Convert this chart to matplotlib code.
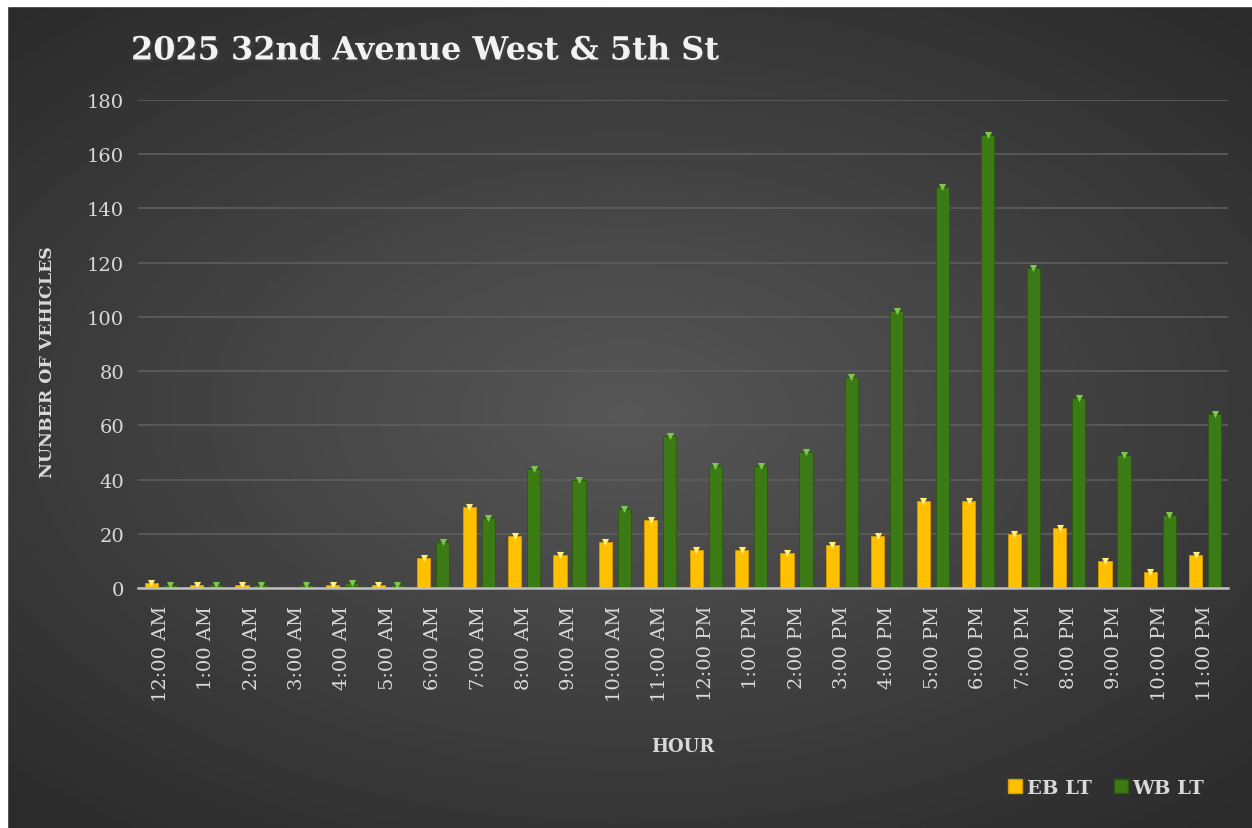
import numpy as np
import matplotlib.pyplot as plt
from matplotlib.lines import Line2D
from matplotlib.patches import Rectangle
import matplotlib.patheffects as pe

hours = ["12:00 AM", "1:00 AM", "2:00 AM", "3:00 AM", "4:00 AM", "5:00 AM",
         "6:00 AM", "7:00 AM", "8:00 AM", "9:00 AM", "10:00 AM", "11:00 AM",
         "12:00 PM", "1:00 PM", "2:00 PM", "3:00 PM", "4:00 PM", "5:00 PM",
         "6:00 PM", "7:00 PM", "8:00 PM", "9:00 PM", "10:00 PM", "11:00 PM"]
eb_lt = [2, 1, 1, 0, 1, 1, 11, 30, 19, 12, 17, 25, 14, 14, 13, 16, 19, 32, 32, 20, 22, 10, 6, 12]
wb_lt = [1, 1, 1, 1, 2, 1, 17, 26, 44, 40, 29, 56, 45, 45, 50, 78, 102, 148, 167, 118, 70, 49, 27, 64]

serif = ["DejaVu Serif"]
txt = "#d9d9d9"

fig = plt.figure(figsize=(12.52, 8.29), dpi=100, facecolor="#2b2b2b")

# dark radial-gradient background over the whole figure
bg = fig.add_axes([0, 0, 1, 1])
yy, xx = np.mgrid[-1:1:300j, -1:1:450j]
r = np.sqrt((xx * 0.9) ** 2 + (yy * 1.0) ** 2)
shade = 0.34 - 0.17 * np.clip(r / 1.3, 0, 1)
bg.imshow(shade, cmap="gray", vmin=0, vmax=1, aspect="auto", extent=[0, 1, 0, 1])
bg.set_xlim(0, 1)
bg.set_ylim(0, 1)
bg.axis("off")
# white strip at top and left like the source image
fig.patches.append(Rectangle((0, 1 - 7 / 829), 1, 7 / 829, transform=fig.transFigure,
                             color="white", zorder=10))
fig.patches.append(Rectangle((0, 0), 7 / 1252, 1, transform=fig.transFigure,
                             color="white", zorder=10))

ax = fig.add_axes([138 / 1252, 1 - 589 / 829, (1228 - 138) / 1252, (589 - 101) / 829])
ax.patch.set_alpha(0)

x = np.arange(len(hours))
eb = np.array(eb_lt)
wb = np.array(wb_lt)
w = 0.29
ax.bar(x - 0.21, eb, w, color="#FFC000", edgecolor="#D99A00", linewidth=0.6, zorder=3)
ax.bar(x + 0.21, wb, w, color="#3B7A14", edgecolor="#2A5A0C", linewidth=0.6, zorder=3)
# small bevel caps on top of each non-zero bar
ax.scatter((x - 0.21)[eb > 0], eb[eb > 0], marker="v", s=26, color="#FFF07A", zorder=4, linewidths=0)
ax.scatter((x + 0.21)[wb > 0], wb[wb > 0], marker="v", s=26, color="#7CC84A", zorder=4, linewidths=0)

ax.set_xlim(-0.5, len(hours) - 0.5)
ax.set_ylim(0, 180)
ax.set_yticks(range(0, 181, 20))
ax.grid(axis="y", color="#5e5e5e", linewidth=1.2, zorder=0)
ax.set_axisbelow(True)
for s in ["top", "right", "left"]:
    ax.spines[s].set_visible(False)
ax.spines["bottom"].set_color("#bfbfbf")
ax.spines["bottom"].set_linewidth(1.8)
ax.spines["bottom"].set_zorder(5)

ax.set_xticks(x)
ax.set_xticklabels(hours, rotation=90, family=serif, fontsize=14, color=txt)
for lab in ax.get_yticklabels():
    lab.set_family(serif)
    lab.set_fontsize(14)
    lab.set_color(txt)
ax.tick_params(axis="both", length=0, pad=10)
ax.tick_params(axis="x", pad=12)

ax.set_xlabel("HOUR", family=serif, fontsize=13, fontweight="bold", color=txt, labelpad=26)
ax.set_ylabel("NUNBER OF VEHICLES", family=serif, fontsize=12.5, fontweight="bold", color=txt)
ax.yaxis.set_label_coords(-0.075, 0.465)

fig.text(131 / 1252, 1 - 52 / 829, "2025 32nd Avenue West & 5th St", family=serif,
         fontsize=23, fontweight="bold", color="#f2f2f2", va="center", ha="left",
         path_effects=[pe.withSimplePatchShadow(offset=(1.5, -1.5), alpha=0.6)])

handles = [Line2D([], [], marker="s", linestyle="none", markersize=10,
                  markerfacecolor="#FFC000", markeredgecolor="#D99A00"),
           Line2D([], [], marker="s", linestyle="none", markersize=10,
                  markerfacecolor="#3B7A14", markeredgecolor="#2A5A0C")]
leg = fig.legend(handles, ["EB LT", "WB LT"], loc="center right",
                 bbox_to_anchor=(1222 / 1252, 1 - 789 / 829), ncol=2, frameon=False,
                 handletextpad=0.1, columnspacing=1.0, handlelength=1.0,
                 prop={"family": serif, "size": 14, "weight": "bold"})
for t in leg.get_texts():
    t.set_color(txt)

fig.savefig("out.png", dpi=100, facecolor=fig.get_facecolor())
